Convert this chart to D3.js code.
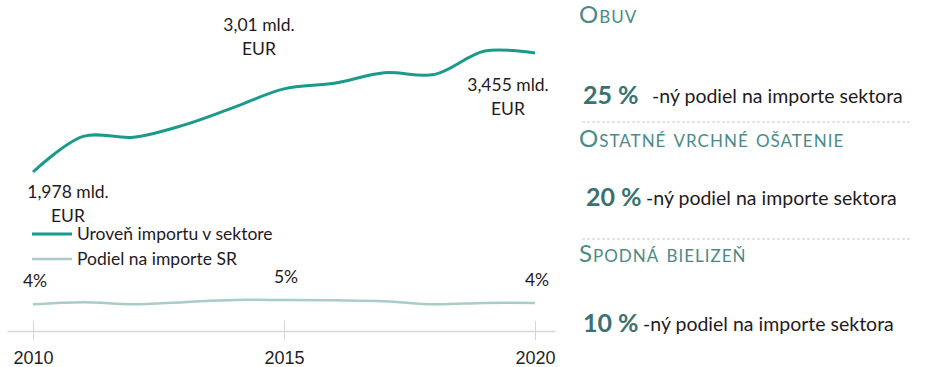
<!DOCTYPE html>
<html>
<head>
<meta charset="utf-8">
<script src="https://cdn.jsdelivr.net/npm/d3@7"></script>
<style>
  body { margin: 0; background: #fff; }
  svg { font-family: Lato, "Open Sans", sans-serif; }
  .tick text { font-size: 18px; fill: #1f1f1f; }
  .tick line, .domain { stroke: #d6d6d6; }
  .note { font-size: 17.5px; fill: #1f1a1f; }
  .head { font-size: 24px; fill: #4a8a8a; font-variant: small-caps; letter-spacing: 1px; }
  .pct { font-size: 25px; font-weight: bold; fill: #3b7170; }
  .desc { font-size: 19.5px; fill: #1f1a1f; }
</style>
</head>
<body>
<svg width="942" height="367"></svg>
<script>
var years = [2010, 2011, 2012, 2013, 2014, 2015, 2016, 2017, 2018, 2019, 2020];
// dovoz v sektore, mld. EUR
var importValue = [1.978, 2.42, 2.41, 2.56, 2.78, 3.01, 3.08, 3.21, 3.19, 3.48, 3.455];
// podiel na importe SR, %
var importShare = [4.3, 4.45, 4.3, 4.45, 4.6, 4.6, 4.58, 4.52, 4.3, 4.4, 4.4];
var tickYears = [2010, 2015, 2020];
var valueLabels = [["1,978 mld.", "EUR"], ["3,01 mld.", "EUR"], ["3,455 mld.", "EUR"]];
var shareLabels = ["4%", "5%", "4%"];
var legendNames = ["Uroveň importu v sektore", "Podiel na importe SR"];

var sectors = ["Obuv", "Ostatné vrchné ošatenie", "Spodná bielizeň"];
var sectorShares = ["25 %", "20 %", "10 %"];
var sectorText = "-ný podiel na importe sektora";

var colMain = "#1b9a8c", colShare = "#a9cccb";

var svg = d3.select("svg");

var x = d3.scaleLinear().domain([2010, 2020]).range([33, 535]);
var y = d3.scaleLinear().domain([1.978, 3.455]).range([172, 53]);
var yS = d3.scaleLinear().domain([4, 5]).range([308.6, 294.3]);

// osa x
var xAxisScale = x.copy().domain([2009.48, 2020.4]).range([x(2009.48), x(2020.4)]);
var ax = svg.append("g")
    .attr("transform", "translate(0,331)")
    .call(d3.axisBottom(xAxisScale).tickValues(tickYears).tickFormat(d3.format("d"))
      .tickSizeInner(9).tickSizeOuter(0).tickPadding(11));
ax.selectAll(".tick line").attr("y1", -10);
ax.select(".domain").attr("stroke-width", 1.5);

var line = d3.line().curve(d3.curveCatmullRom.alpha(0.5));

svg.append("path")
    .attr("d", line(years.map(function(d, i) { return [x(d), yS(importShare[i])]; })))
    .attr("fill", "none").attr("stroke", colShare).attr("stroke-width", 2.5);

svg.append("path")
    .attr("d", line(years.map(function(d, i) { return [x(d), y(importValue[i])]; })))
    .attr("fill", "none").attr("stroke", colMain).attr("stroke-width", 3);

// popisy hodnot
var labIdx = tickYears.map(function(t) { return years.indexOf(t); });
var valOff = [[35, 26], [-25, -58], [-27, 38]];
labIdx.forEach(function(idx, k) {
  var t = svg.append("text").attr("class", "note").attr("text-anchor", "middle")
      .attr("x", x(years[idx]) + valOff[k][0])
      .attr("y", y(importValue[idx]) + valOff[k][1]);
  t.append("tspan").text(valueLabels[k][0]);
  t.append("tspan").attr("x", x(years[idx]) + valOff[k][0]).attr("dy", 24).text(valueLabels[k][1]);

  svg.append("text").attr("class", "note").attr("text-anchor", "middle")
      .attr("x", x(years[idx]) + 2)
      .attr("y", yS(importShare[idx]) - 17)
      .text(shareLabels[k]);
});

// legenda
var leg = svg.append("g").attr("transform", "translate(32,234)");
legendNames.forEach(function(n, i) {
  var g = leg.append("g").attr("transform", "translate(0," + (i * 25) + ")");
  g.append("line").attr("x1", 0).attr("x2", 40)
      .attr("stroke", i === 0 ? colMain : colShare).attr("stroke-width", i === 0 ? 3 : 2.5);
  g.append("text").attr("class", "note").attr("x", 45).attr("y", 6).text(n);
});

// pravy panel
var rows = [{h: 23, p: 104, px: 583, tx: 652, sep: 122},
            {h: 147, p: 206, px: 586, tx: 646, sep: 239},
            {h: 262, p: 332, px: 583, tx: 643, sep: null}];
sectors.forEach(function(s, i) {
  var r = rows[i];
  svg.append("text").attr("class", "head").attr("x", 579).attr("y", r.h).text(s);
  svg.append("text").attr("class", "pct").attr("x", r.px).attr("y", r.p).text(sectorShares[i]);
  svg.append("text").attr("class", "desc").attr("x", r.tx).attr("y", r.p - 1).text(sectorText);
  if (r.sep) {
    svg.append("line").attr("x1", 582).attr("x2", 912).attr("y1", r.sep).attr("y2", r.sep)
        .attr("stroke", "#c9c9c9").attr("stroke-width", 1).attr("stroke-dasharray", "3,2");
  }
});
</script>
</body>
</html>
